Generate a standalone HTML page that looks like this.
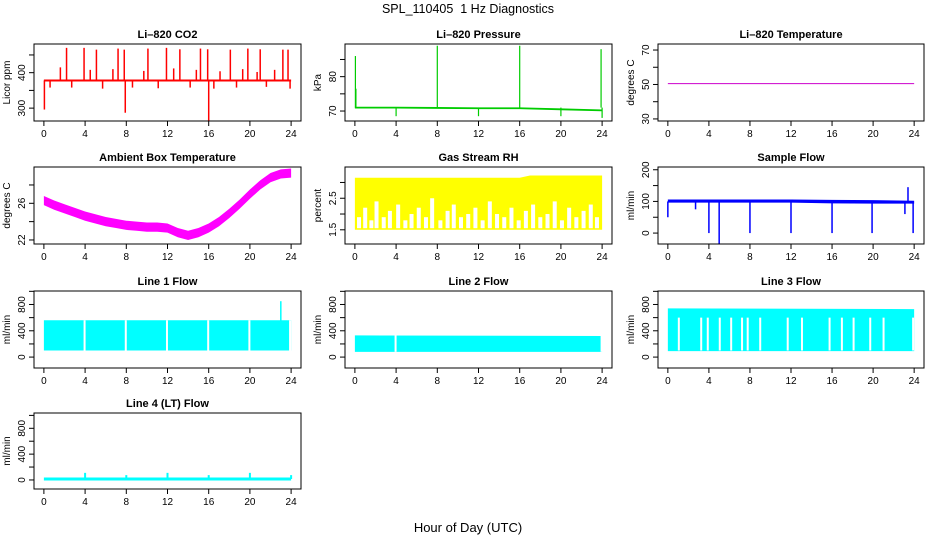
<!DOCTYPE html>
<html><head><meta charset="utf-8"><style>
body{margin:0;background:#fff;}
svg{display:block;font-family:"Liberation Sans",Arial,sans-serif;}
</style></head><body>
<svg id="chart" width="936" height="540" viewBox="0 0 936 540">
<text x="468" y="13" text-anchor="middle" font-size="12.5">SPL_110405&#160; 1 Hz Diagnostics</text>
<text x="468" y="532" text-anchor="middle" font-size="13">Hour of Day (UTC)</text>
</svg>
<script>
// ---- data ----
const xTicks=[0,4,8,12,16,20,24];
const co2Base=[378,378];
const co2SpikeHours=[2.2,3.9,5.1,7.2,7.8,10.1,11.9,13.2,15.2,15.9,18.1,19.8,21.0,23.2,23.7,1.6,4.5,6.7,9.7,12.6,14.8,17.1,19.3,20.7,22.4,0.6,2.7,5.7,8.6,11.1,14.2,16.5,18.7,21.6,23.9,7.9,16.0,0.05];
const co2SpikeVals=[470,470,465,468,465,468,470,466,468,466,465,468,466,465,465,415,408,410,405,412,408,404,410,402,408,358,358,355,358,356,358,355,358,360,355,287,265,296];
const presHours=[0,4,8,12,16,20,24];
const presBase=[71.0,71.0,70.9,70.8,70.8,70.5,70.2];
const presSpikeHours=[0.05,0.1,8,16,23.9,4,12,20,24];
const presSpikeVals=[86,76.5,89,89,88,68.5,68.5,68.5,68];
const tempHours=[0,24];
const tempVals=[50.5,50.5];
const ambHours=[0,1,2,3,4,5,6,7,8,9,10,11,12,13,14,15,16,17,18,19,20,21,22,23,24];
const ambVals=[26.3,25.8,25.4,25.0,24.6,24.3,24.0,23.8,23.6,23.5,23.4,23.4,23.3,22.8,22.5,22.8,23.3,24.0,24.9,25.9,27.0,28.0,28.8,29.2,29.3];
const rhHours=[0,4,8,12,16,17,20,24];
const rhHi=[3.15,3.15,3.15,3.15,3.15,3.22,3.22,3.22];
const rhLo=[1.5,1.5,1.5,1.5,1.5,1.5,1.5,1.5];
const rhGapHours=[0.4,1.0,1.6,2.1,2.8,3.4,4.2,4.9,5.5,6.2,6.9,7.5,8.3,9.0,9.6,10.3,11.0,11.7,12.4,13.1,13.8,14.5,15.2,15.9,16.6,17.3,18.0,18.7,19.4,20.1,20.8,21.5,22.2,22.9,23.5];
const rhGapTops=[1.9,2.2,1.8,2.4,1.9,2.1,2.3,1.8,2.0,2.2,1.9,2.5,1.8,2.1,2.3,1.9,2.0,2.2,1.8,2.4,2.0,1.9,2.2,1.8,2.1,2.3,1.9,2.0,2.4,1.8,2.2,1.9,2.1,2.3,1.9];
const sfHours=[0,4,8,12,16,20,24];
const sfHi=[106,106,106,106,105,104,102];
const sfLo=[96,96,96,96,94,93,93];
const sfSpikeHours=[0,4,5,8,12,16,19.9,23.4,23.9,2.7,23.1];
const sfSpikeVals=[50,0,-35,0,0,0,0,145,0,75,60];
const l1Lo=[100,100];
const l1Hi=[560,560];
const l1Gaps=[3.95,7.95,11.95,15.95,19.95,23.9];
const l1SpikeHours=[23];
const l1SpikeVals=[850];
const l2Lo=[80,80];
const l2Hi=[330,320];
const l2Gaps=[3.95,23.95];
const l3Lo=[90,90];
const l3Hi=[740,730];
const l3Gaps=[1.07,3.25,3.89,5.06,6.17,7.23,7.78,9.0,11.68,13.07,15.76,16.96,18.1,19.72,21.02,23.9];
const l4Base=[15,15];
const l4SpikeHours=[4,8,12,16,20,24];
const l4SpikeVals=[110,75,110,75,110,75];

// ---- layout ----
const svg=document.getElementById('chart');
const NS='http://www.w3.org/2000/svg';
const cols=[[34,301],[345,612],[658,924]];
const rows=[[44,121],[167,244],[291,368],[413,489]];
function el(tag,attrs,parent){const e=document.createElementNS(NS,tag);for(const k in attrs)e.setAttribute(k,attrs[k]);(parent||svg).appendChild(e);return e;}

function panel(id,c,r,ylim,yt,yl,ylab,title){
  const [x0,x1]=cols[c],[y0,y1]=rows[r];
  const g=el('g',{});
  
  
  const xs=h=>x0+(x1-x0)*(h+0.96)/25.92;
  const ys=v=>y1-(y1-y0)*(v-ylim[0])/(ylim[1]-ylim[0]);
  const t=el('text',{x:(x0+x1)/2,y:y0-6,'text-anchor':'middle','font-size':11,'font-weight':'bold'},g);
  t.textContent=title;
  
  
  const plot=el('g',{},g);
  
  
  const box=el('rect',{x:x0,y:y0,width:x1-x0,height:y1-y0,fill:'none',stroke:'#000','stroke-width':1},g);
  
  
  const xa=el('g',{},g);
  
  
  xTicks.forEach(h=>{const X=xs(h);el('line',{x1:X,x2:X,y1:y1,y2:y1+5,stroke:'#000'},xa);
    const tx=el('text',{x:X,y:y1+16,'text-anchor':'middle','font-size':10},xa);tx.textContent=h;});
  const ya=el('g',{},g);
  
  
  yt.forEach(v=>{const Y=ys(v);el('line',{x1:x0-5,x2:x0,y1:Y,y2:Y,stroke:'#000'},ya);});
  yl.forEach(v=>{const Y=ys(v);const tx=el('text',{x:x0-9,y:Y,'text-anchor':'middle','font-size':10,transform:`rotate(-90 ${x0-9} ${Y})`},ya);tx.textContent=v;});
  const lab=el('text',{x:x0-24,y:(y0+y1)/2,'text-anchor':'middle','font-size':10,transform:`rotate(-90 ${x0-24} ${(y0+y1)/2})`},g);
  lab.textContent=ylab;
  
  
  return {xs,ys,plot};
}
function line(p,hs,vs,color,w){return el('polyline',{points:hs.map((h,i)=>p.xs(h)+','+p.ys(vs[i])).join(' '),fill:'none',stroke:color,'stroke-width':w},p.plot);}
function spikes(p,hs,vs,base,color,w){hs.forEach((h,i)=>{const b=Array.isArray(base)?base[0]:base;el('line',{x1:p.xs(h),x2:p.xs(h),y1:p.ys(b),y2:p.ys(vs[i]),stroke:color,'stroke-width':w},p.plot);});}
function band(p,hs,lo,hi,color){const pts=hs.map((h,i)=>p.xs(h)+','+p.ys(hi[i])).concat(hs.slice().reverse().map((h,i)=>p.xs(h)+','+p.ys(lo[hs.length-1-i])));return el('polygon',{points:pts.join(' '),fill:color},p.plot);}
function gaps(p,gs,lo,hi){gs.forEach(h=>{el('rect',{x:p.xs(h)-1,y:p.ys(hi),width:2,height:p.ys(lo)-p.ys(hi),fill:'#fff'},p.plot);});}

// CO2
let p=panel('co2',0,0,[263.7,480.9],[300,350,400,450],[300,400],'Licor ppm','Li\u2013820 CO2');
line(p,[0,24],co2Base,'#f00',2);
spikes(p,co2SpikeHours,co2SpikeVals,co2Base,'#f00',1.5);
// Pressure
p=panel('pressure',1,0,[67.1,89.5],[70,75,80,85],[70,80],'kPa','Li\u2013820 Pressure');
line(p,presHours,presBase,'#0c0',1.8);
spikes(p,presSpikeHours,presSpikeVals,presBase,'#0c0',1.2);
// Temperature
p=panel('temperature',2,0,[28.8,73.5],[30,40,50,60,70],[30,50,70],'degrees C','Li\u2013820 Temperature');
line(p,tempHours,tempVals,'#c0c',1);
// Ambient
p=panel('ambient',0,1,[21.56,29.96],[22,24,26,28],[22,26],'degrees C','Ambient Box Temperature');
band(p,ambHours,ambVals.map(v=>v-0.5),ambVals.map(v=>v+0.5),'#f0f');
// RH
p=panel('rh',1,1,[1.05,3.49],[1.5,2,2.5,3],[1.5,2.5],'percent','Gas Stream RH');
band(p,rhHours,rhLo,rhHi,'#ff0');
rhGapHours.forEach((h,i)=>{const r=el('rect',{x:p.xs(h)-2,y:p.ys(rhGapTops[i]),width:4,height:p.ys(1.55)-p.ys(rhGapTops[i]),fill:'#fff'},p.plot);

});
// Sample flow
p=panel('sample-flow',2,1,[-34.5,208.7],[0,50,100,150,200],[0,100,200],'ml/min','Sample Flow');
band(p,sfHours,sfLo,sfHi,'#00f');
spikes(p,sfSpikeHours,sfSpikeVals,100,'#00f',1.5);
// Line 1
p=panel('line1-flow',0,2,[-166,1005],[0,200,400,600,800,1000],[0,400,800],'ml/min','Line 1 Flow');
band(p,[0,24],l1Lo,l1Hi,'#0ff');
gaps(p,l1Gaps,l1Lo[0],l1Hi[0]);
spikes(p,l1SpikeHours,l1SpikeVals,500,'#0ff',1.5);
// Line 2
p=panel('line2-flow',1,2,[-166,1005],[0,200,400,600,800,1000],[0,400,800],'ml/min','Line 2 Flow');
band(p,[0,24],l2Lo,l2Hi,'#0ff');
gaps(p,l2Gaps,l2Lo[0],l2Hi[0]);
// Line 3
p=panel('line3-flow',2,2,[-166,1005],[0,200,400,600,800,1000],[0,400,800],'ml/min','Line 3 Flow');
band(p,[0,24],l3Lo,l3Hi,'#0ff');
gaps(p,l3Gaps,100,600);
// Line 4
p=panel('line4-flow',0,3,[-140,1037],[0,200,400,600,800,1000],[0,400,800],'ml/min','Line 4 (LT) Flow');
line(p,[0,24],l4Base,'#0ff',3);
spikes(p,l4SpikeHours,l4SpikeVals,l4Base,'#0ff',2);
</script>
</body></html>
